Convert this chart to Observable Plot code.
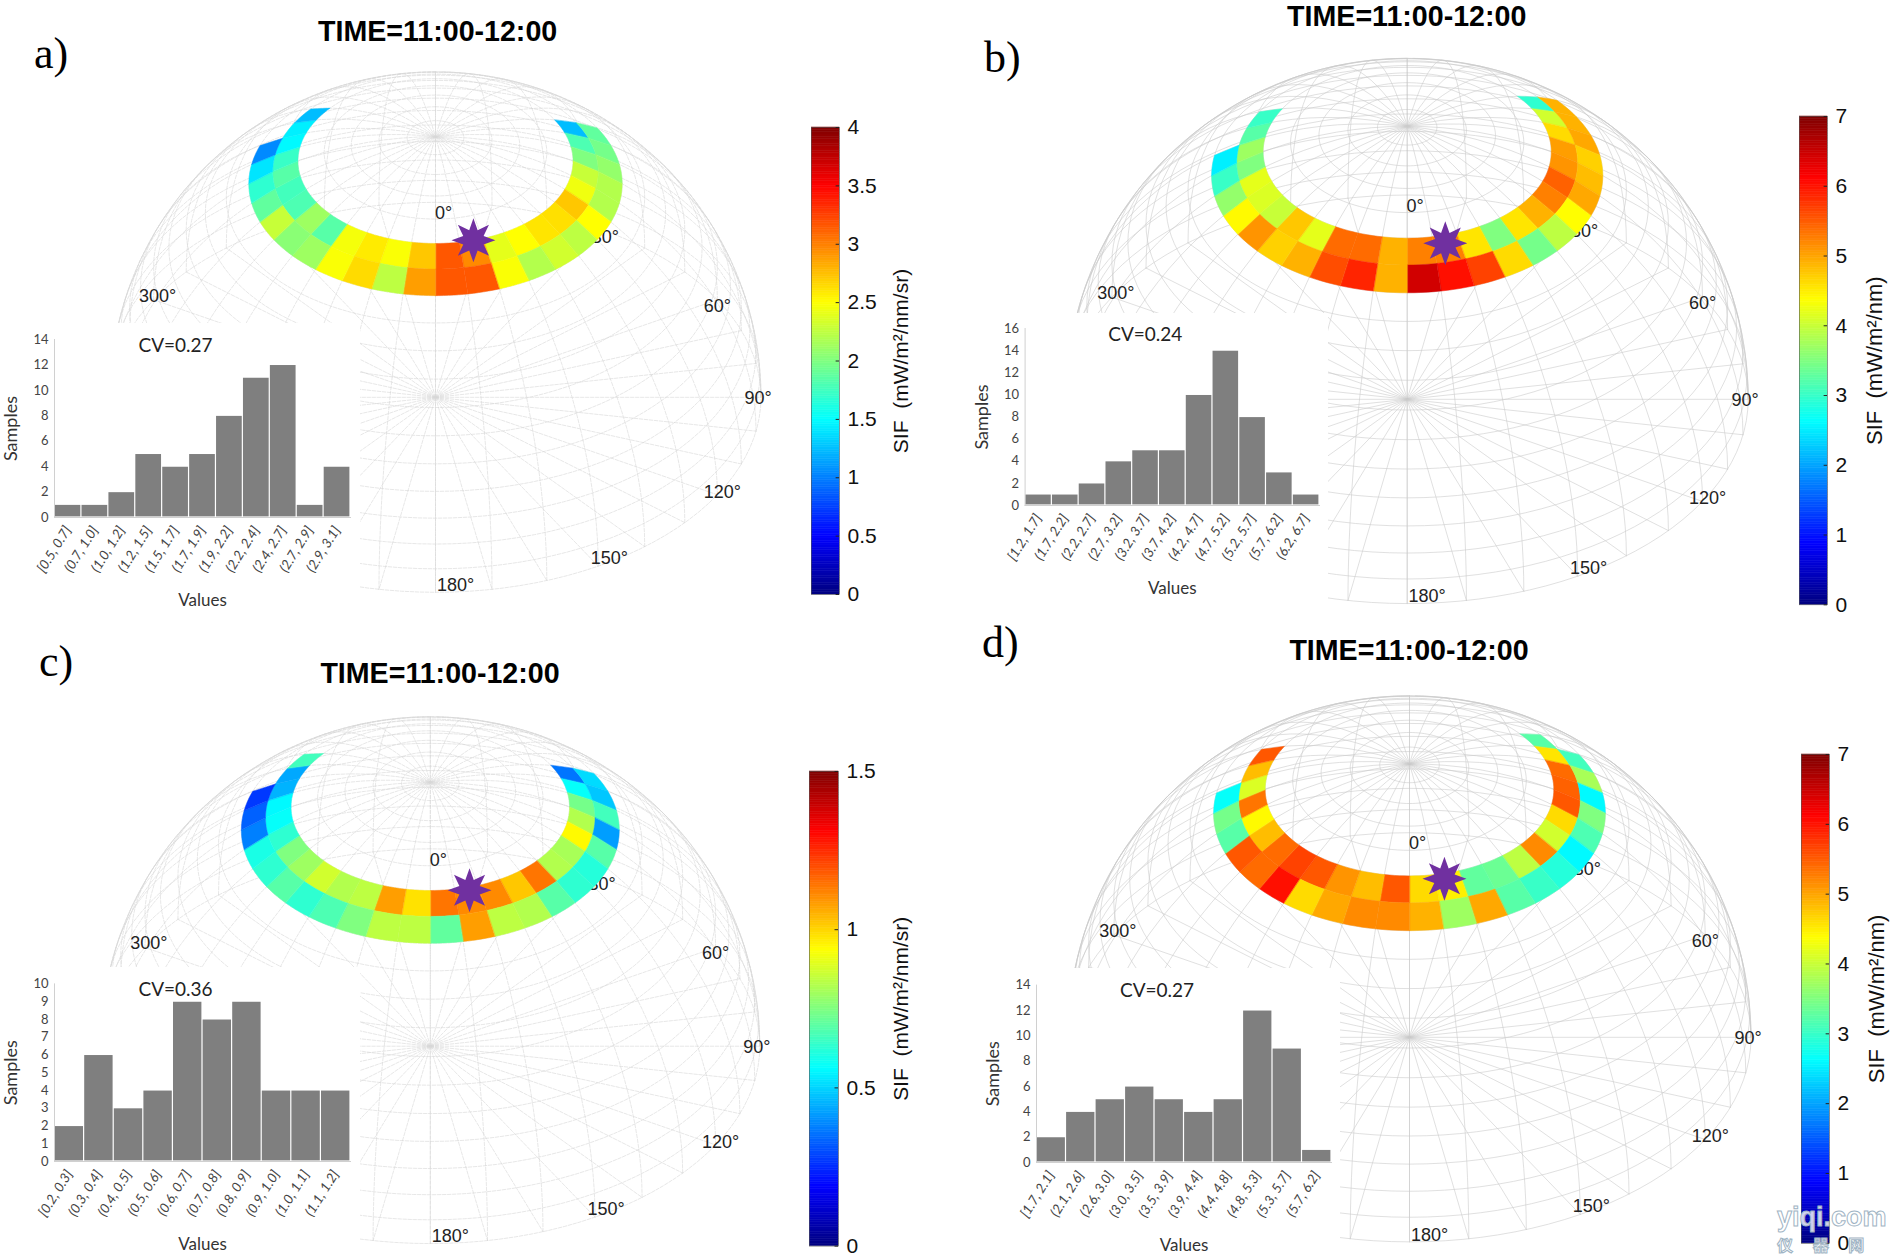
<!DOCTYPE html>
<html><head><meta charset="utf-8">
<script src="https://cdn.jsdelivr.net/npm/d3@7"></script>
<script src="https://cdn.jsdelivr.net/npm/@observablehq/plot@0.6"></script>
<style>
html,body{margin:0;padding:0;background:#fff;width:1890px;height:1259px;overflow:hidden}
#page{position:relative;width:1890px;height:1259px}
.lay{position:absolute}
.title{position:absolute;font:bold 28.6px "Liberation Sans";color:#000;transform:translateX(-50%);white-space:nowrap;line-height:1}
.tag{position:absolute;font:44px "Liberation Serif";color:#000;line-height:1}
.wm{position:absolute;font-family:"Liberation Sans";font-weight:bold;color:rgba(255,255,255,.82);-webkit-text-stroke:1px #9fb4c4;white-space:pre;line-height:1}
</style></head><body><div id="page"></div>
<script>
// SIF per cell. Cells are 10 deg of azimuth, ordered by increasing azimuth from the ring's start.
const innerA=[1.24,1.8,2.0,2.28,2.44,2.72,2.62,2.6,2.5,2.4,2.96,3.16,2.72,2.48,2.58,2.46,1.84,2.12,1.8,1.76,1.84,1.72,1.48,1.44,1.24];
const outerA=[1.88,1.96,2.08,2.2,2.2,2.5,2.24,2.32,2.2,2.48,3.16,3.16,2.88,2.24,2.64,2.48,2.12,2.04,2.28,1.88,1.68,1.4,1.04];
const innerB=[2.94,4.06,4.62,5.04,5.11,5.46,5.25,4.9,4.55,3.5,4.55,5.25,5.25,4.9,5.39,5.39,4.2,4.76,3.99,4.13,4.2,3.5,3.71,3.22,3.01];
const outerB=[4.9,4.9,4.97,4.69,4.83,4.97,4.38,3.92,3.43,4.62,5.67,6.02,6.44,4.9,5.88,5.6,4.9,4.69,5.11,4.41,3.64,3.01,2.52];
const innerC=[.36,.57,.735,.825,.945,.81,.825,1.14,1.02,1.11,1.11,1.14,.98,1.08,.84,.825,.87,.795,.75,.63,.57,.555,.45,.435,.66];
const outerC=[.51,.48,.66,.42,.69,.615,.63,.69,.825,.84,1.08,.705,.84,.84,.75,.675,.63,.69,.63,.6,.375,.33,.27];
const innerD=[3.22,4.55,5.39,5.46,5.53,4.62,4.06,5.18,3.92,3.36,3.29,4.48,4.62,5.53,4.83,5.11,5.53,5.67,5.39,4.83,4.41,5.32,4.13,4.83,5.53];
const outerD=[3.08,3.78,2.59,3.5,3.15,2.59,2.87,3.01,3.22,4.97,3.71,4.9,5.18,5.18,4.97,4.62,6.02,5.39,5.53,3.22,3.43,2.66];

const binsA=["[0.5, 0.7]","(0.7, 1.0]","(1.0, 1.2]","(1.2, 1.5]","(1.5, 1.7]","(1.7, 1.9]","(1.9, 2.2]","(2.2, 2.4]","(2.4, 2.7]","(2.7, 2.9]","(2.9, 3.1]"];
const countsA=[1,1,2,5,4,5,8,11,12,1,4];
const binsB=["[1.2, 1.7]","(1.7, 2.2]","(2.2, 2.7]","(2.7, 3.2]","(3.2, 3.7]","(3.7, 4.2]","(4.2, 4.7]","(4.7, 5.2]","(5.2, 5.7]","(5.7, 6.2]","(6.2, 6.7]"];
const countsB=[1,1,2,4,5,5,10,14,8,3,1];
const binsC=["[0.2, 0.3]","(0.3, 0.4]","(0.4, 0.5]","(0.5, 0.6]","(0.6, 0.7]","(0.7, 0.8]","(0.8, 0.9]","(0.9, 1.0]","(1.0, 1.1]","(1.1, 1.2]"];
const countsC=[2,6,3,4,9,8,9,4,4,4];
const binsD=["[1.7, 2.1]","(2.1, 2.6]","(2.6, 3.0]","(3.0, 3.5]","(3.5, 3.9]","(3.9, 4.4]","(4.4, 4.8]","(4.8, 5.3]","(5.3, 5.7]","(5.7, 6.2]"];
const countsD=[2,4,5,6,5,4,5,12,9,1];

const ticksA=[0,.5,1,1.5,2,2.5,3,3.5,4];
const ticksB=[0,1,2,3,4,5,6,7];
const ticksC=[0,.5,1,1.5];
const ticksD=[0,1,2,3,4,5,6,7];

const azLabels=[0,30,60,90,120,150,180,300];
const azLabelDx=[8,7,0,-3,5,11,20,4];
const azLabelDy=[11,9,6,1,-3,-8,-7,-4];

const TITLE="TIME=11:00-12:00";
const ELEV=36.8;

const panels=[
 {tag:"a)",tagX:34,tagY:32,titleX:437.6,titleY:17,left:0,top:0,cx:435,cy:396.8,R:325.5,faint:true,
  inner:innerA,outer:outerA,innerStart:60,outerStart:60,max:4,ticks:ticksA,unit:"SIF  (mW/m²/nm/sr)",unitSize:21,sun:[164,25],
  bins:binsA,counts:countsA,yMax:14,yStep:2,cv:"CV=0.27",hist:{l:0,t:323,w:360,h:287,ml:54,mr:10,mt:16,mb:93},
  bar:{l:811,t:126.5,w:28,h:467,lab:62}},
 {tag:"b)",tagX:984,tagY:36,titleX:1406.7,titleY:2,left:945,top:0,cx:461.7,cy:398.8,R:341,faint:false,
  inner:innerB,outer:outerB,innerStart:50,outerStart:50,max:7,ticks:ticksB,unit:"SIF  (mW/m²/nm)",unitSize:22,sun:[165.5,26.5],
  bins:binsB,counts:countsB,yMax:16,yStep:2,cv:"CV=0.24",hist:{l:945,t:313,w:383,h:297,ml:79.6,mr:9,mt:15,mb:105},
  bar:{l:1799,t:115.7,w:28,h:488.3,lab:47}},
 {tag:"c)",tagX:39,tagY:640,titleX:440,titleY:659,left:0,top:630,cx:429.8,cy:415.7,R:329.5,faint:true,
  inner:innerC,outer:outerC,innerStart:60,outerStart:60,max:1.5,ticks:ticksC,unit:"SIF  (mW/m²/nm/sr)",unitSize:21,sun:[164,25.6],
  bins:binsC,counts:countsC,yMax:10,yStep:1,cv:"CV=0.36",hist:{l:0,t:967,w:360,h:292,ml:54,mr:10,mt:16.4,mb:98},
  bar:{l:809,t:771,w:29,h:474.6,lab:63}},
 {tag:"d)",tagX:982,tagY:621,titleX:1409,titleY:636,left:945,top:630,cx:464,cy:406.8,R:341.5,faint:false,
  inner:innerD,outer:outerD,innerStart:50,outerStart:60,max:7,ticks:ticksD,unit:"SIF  (mW/m²/nm)",unitSize:22,sun:[166.5,26],
  bins:binsD,counts:countsD,yMax:14,yStep:2,cv:"CV=0.27",hist:{l:945,t:968,w:395,h:291,ml:91,mr:9,mt:16.6,mb:97},
  bar:{l:1801,t:753.7,w:28,h:488.8,lab:47}}
];

const clamp=v=>Math.max(0,Math.min(1,v));
function jet(t){
  const c=k=>Math.round(255*clamp(1.5-Math.abs(4*t-k)));
  return `rgb(${c(3)},${c(2)},${c(1)})`;
}
const lon=az=>180-az;
const star8={draw(ctx,size){
  const r=Math.sqrt(size/Math.PI),ri=r*.5;
  for(let i=0;i<16;i++){
    const a=i*Math.PI/8-Math.PI/2,q=i%2?ri:r,x=q*Math.cos(a),y=q*Math.sin(a);
    if(i) ctx.lineTo(x,y); else ctx.moveTo(x,y);
  }
  ctx.closePath();
}};
function cell(az0,lat0,lat1){
  const top=d3.range(az0,az0+10.01,2).map(a=>[lon(a),lat1]);
  const bot=d3.range(az0+10,az0-.01,-2).map(a=>[lon(a),lat0]);
  const ring=[...top,...bot];ring.push(ring[0]);
  return {type:"Polygon",coordinates:[ring]};
}
const page=document.getElementById("page");
function place(node,l,t,z){
  const w=document.createElement("div");w.className="lay";
  w.style.left=l+"px";w.style.top=t+"px";w.style.zIndex=z;
  w.appendChild(node);page.appendChild(w);
}
function addDiv(cls,text,l,t){
  const d=document.createElement("div");d.className=cls;d.textContent=text;
  d.style.left=l+"px";d.style.top=t+"px";d.style.zIndex=9;page.appendChild(d);return d;
}

for(const p of panels){
  const W=945,H=630,gridStroke=p.faint?"#d6d6d6":"#cbcbcb",dash=p.faint?"3.5 1.5":null,gw=.6;
  const proj=d3.geoOrthographic().preclip(s=>s).rotate([0,-ELEV]).scale(p.R).translate([p.cx,p.cy]).precision(.3);

  // base disc spokes
  const se=Math.sin(ELEV*Math.PI/180);
  const spokes=d3.range(0,360,10).flatMap(a=>[
    {id:a,x:0,y:0},
    {id:a,x:Math.sin(a*Math.PI/180),y:Math.cos(a*Math.PI/180)*se}
  ]);
  place(Plot.plot({width:W,height:H,margin:0,
    x:{domain:[-1,1],range:[p.cx-p.R,p.cx+p.R],axis:null},
    y:{domain:[-1,1],range:[p.cy+p.R,p.cy-p.R],axis:null},
    style:{background:"transparent"},
    marks:[Plot.line(spokes,{x:"x",y:"y",z:"id",stroke:gridStroke,strokeWidth:gw,strokeDasharray:dash})]
  }),p.left,p.top,1);

  const meridians=d3.range(0,360,10).map(a=>d3.range(0,90.1,3).map(l=>[lon(a),l]));
  const parallels=d3.range(0,86,5).map(l=>d3.range(-180,180.1,3).map(x=>[x,l]));
  const outline=d3.geoCircle().center([0,ELEV]).radius(90).precision(1)().coordinates[0].filter(c=>c[1]>=-.01);
  outline.sort((a,b)=>a[0]-b[0]);

  const cells=[
    ...p.inner.map((v,i)=>({v,geom:cell(p.innerStart+i*10,60,65)})),
    ...p.outer.map((v,i)=>({v,geom:cell(p.outerStart+i*10,55,60)}))
  ];
  const labelMarks=azLabels.map((a,i)=>Plot.text([a],{x:d=>lon(d),y:()=>0,text:d=>d+"°",
    dx:azLabelDx[i],dy:azLabelDy[i],fontSize:18,fill:"#222",textAnchor:"middle"}));

  place(Plot.plot({width:W,height:H,margin:0,projection:proj,
    color:{type:"linear",domain:[0,p.max],interpolate:jet},
    style:{background:"transparent",fontFamily:"Liberation Sans"},
    marks:[
      Plot.geo({type:"MultiLineString",coordinates:[...meridians,...parallels,outline]},
        {stroke:gridStroke,strokeWidth:gw,strokeDasharray:dash,fill:"none"}),
      ...labelMarks,
      Plot.geo(cells,{geometry:d=>d.geom,fill:d=>d.v,stroke:d=>d.v,strokeWidth:.4}),
      Plot.dot([p.sun],{x:d=>lon(d[0]),y:d=>90-d[1],r:22,symbol:star8,fill:"#7030a0",stroke:"none"})
    ]
  }),p.left,p.top,2);

  // histogram inset
  const h=p.hist,rows=p.bins.map((b,i)=>({b,c:p.counts[i]}));
  place(Plot.plot({width:h.w,height:h.h,marginLeft:h.ml,marginRight:h.mr,marginTop:h.mt,marginBottom:h.mb,
    style:{background:"#fff",fontFamily:"Lato",color:"#444"},
    x:{domain:p.bins,padding:0,round:false,label:null,axis:null},
    y:{domain:[0,p.yMax],label:null,axis:null},
    marks:[
      Plot.barY(rows,{x:"b",y:"c",fill:"#7f7f7f",inset:.6}),
      Plot.frame({anchor:"left",stroke:"#d0d0d0"}),
      Plot.frame({anchor:"bottom",stroke:"#d0d0d0"}),
      Plot.axisY({ticks:d3.range(0,p.yMax+.1,p.yStep),tickFormat:d=>String(d),tickSize:0,tickPadding:6,fontSize:13,label:null,color:"#444"}),
      Plot.axisX({tickRotate:-58,tickSize:0,tickPadding:10,fontSize:13.5,fontStyle:"italic",label:null,color:"#444"}),
      Plot.text(["Samples"],{frameAnchor:"left",rotate:-90,dx:-43,fontSize:18,fill:"#333",lineAnchor:"middle",textAnchor:"middle"}),
      Plot.text(["Values"],{frameAnchor:"bottom",dy:83,fontSize:17,fill:"#333",lineAnchor:"middle"}),
      Plot.text([p.cv],{frameAnchor:"top",dx:-27,dy:6,fontSize:19,fill:"#222",lineAnchor:"middle"})
    ]
  }),h.l,h.t,3);

  // colour bar
  const b=p.bar,mt=16,mb=14,steps=d3.range(0,200);
  const step=p.max/200;
  const rRight=p===panels[1]||p===panels[3]?1890-b.l-b.w:95;
  place(Plot.plot({width:b.w+rRight,height:b.h+mt+mb,marginLeft:0,marginRight:rRight,marginTop:mt,marginBottom:mb,
    style:{background:"transparent",fontFamily:"Liberation Sans",color:"#111"},
    x:{domain:[0,1],axis:null},
    y:{domain:[0,p.max],axis:null},
    color:{type:"linear",domain:[0,p.max],interpolate:jet},
    marks:[
      Plot.rect(steps,{x1:()=>0,x2:()=>1,y1:d=>d*step,y2:d=>(d+1)*step,fill:d=>(d+.5)*step,stroke:d=>(d+.5)*step,strokeWidth:.5}),
      Plot.frame({stroke:"#555",strokeWidth:.6}),
      Plot.ruleY(p.ticks,{x1:()=>.88,x2:()=>1,stroke:"#222",strokeWidth:1}),
      Plot.axisY({anchor:"right",ticks:p.ticks,tickFormat:d=>String(d),tickSize:0,tickPadding:8,fontSize:21,label:null}),
      Plot.text([p.unit],{frameAnchor:"right",rotate:-90,dx:b.lab,fontSize:p.unitSize,fill:"#111",textAnchor:"middle",lineAnchor:"middle"})
    ]
  }),b.l,b.t-mt,4);

  addDiv("title",TITLE,p.titleX,p.titleY);
  addDiv("tag",p.tag,p.tagX,p.tagY);
}
addDiv("wm","yiqi.com",1777,1204).style.fontSize="27px";
const wm2=addDiv("wm","仪 器 网",1777,1236);
wm2.style.fontSize="16px";wm2.style.fontFamily='"Noto Sans CJK SC"';wm2.style.letterSpacing="8px";
</script></body></html>
